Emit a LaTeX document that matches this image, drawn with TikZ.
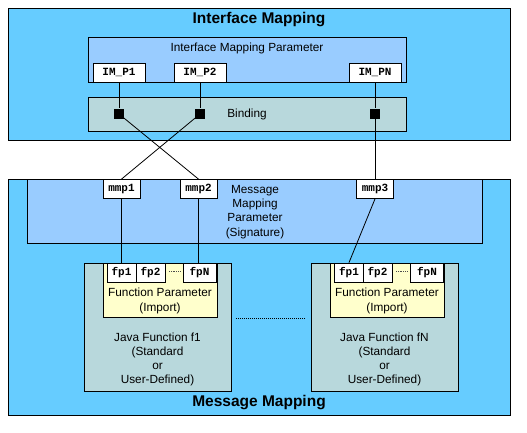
\documentclass[tikz,border=0pt]{standalone}
\usepackage{fontspec}
\setmainfont{Liberation Sans}
\setmonofont{Liberation Mono}
\definecolor{mapblue}{HTML}{66CCFF}
\definecolor{parblue}{HTML}{99CCFF}
\definecolor{bindgray}{HTML}{B8D8DC}
\definecolor{fpyellow}{HTML}{FFFFCC}
\begin{document}
\begin{tikzpicture}[x=1pt,y=-1pt,line width=0.8pt, % pixel grid, y down
   txt/.style={font=\fontsize{11.8}{14.3}\selectfont,align=center},
   headtxt/.style={font=\fontsize{15.5}{18}\selectfont\bfseries},
   pbox/.style={draw=black,fill=white,inner sep=0pt,minimum height=19pt,
      font=\fontsize{11}{12}\selectfont\ttfamily\bfseries},
   knot/.style={fill=black,inner sep=0pt,minimum size=10.5pt}]
   \useasboundingbox (0,0) rectangle (527,432);
   \filldraw[fill=mapblue] (8,8) rectangle (510,140);
   \filldraw[fill=parblue] (88,37) rectangle (406,82);
   \filldraw[fill=bindgray] (88,97) rectangle (406,131);
   \filldraw[fill=mapblue] (8,179) rectangle (510,415);
   \filldraw[fill=parblue] (27,179) rectangle (482,243);
   \filldraw[fill=bindgray] (84,263) rectangle (231,391);
   \filldraw[fill=bindgray] (311,263) rectangle (458,391);
   \filldraw[fill=fpyellow] (103,263) rectangle (217,317);
   \filldraw[fill=fpyellow] (330,263) rectangle (444,317);
   \node[headtxt] (imtitle) at (259,20) {Interface Mapping};
   \node[txt] (imptext) at (247,48) {Interface Mapping Parameter};
   \node[txt] (bindtext) at (247,114) {Binding};
   \node[txt] (mmptext) at (255,212) {Message\\Mapping\\Parameter\\(Signature)};
   \node[headtxt] (mmtitle) at (259,403) {Message Mapping};
   \node[txt,font=\fontsize{11.8}{15}\selectfont] (fptextl) at (160,301) {Function Parameter\\(Import)};
   \node[txt,font=\fontsize{11.8}{15}\selectfont] (fptextr) at (387,301) {Function Parameter\\(Import)};
   \node[txt,font=\fontsize{11.8}{14}\selectfont] (javal) at (157.5,359) {Java Function f1\\(Standard\\or\\User-Defined)};
   \node[txt,font=\fontsize{11.8}{14}\selectfont] (javar) at (384.5,359) {Java Function fN\\(Standard\\or\\User-Defined)};
   \draw[densely dotted,line width=1pt] (236,318) -- (305,318);
   \node[pbox,minimum width=52pt] (imp1) at (119,72.5) {IM\_P1};
   \node[pbox,minimum width=52pt] (imp2) at (200,72.5) {IM\_P2};
   \node[pbox,minimum width=52pt] (impn) at (375,72.5) {IM\_PN};
   \node[knot] (k1) at (119,114) {};
   \node[knot] (k2) at (200,114) {};
   \node[knot] (k3) at (375,114) {};
   \node[pbox,minimum width=37pt] (mmp1) at (121.5,189) {mmp1};
   \node[pbox,minimum width=37pt] (mmp2) at (198.5,189) {mmp2};
   \node[pbox,minimum width=37pt] (mmp3) at (375,189) {mmp3};
   \node[pbox,minimum width=29pt] (fp1l) at (121.5,272.5) {fp1};
   \node[pbox,minimum width=29pt] (fp2l) at (150.5,272.5) {fp2};
   \node[pbox,minimum width=33pt] (fpnl) at (199.5,272.5) {fpN};
   \node[pbox,minimum width=29pt] (fp1r) at (349,272.5) {fp1};
   \node[pbox,minimum width=29pt] (fp2r) at (377.5,272.5) {fp2};
   \node[pbox,minimum width=33pt] (fpnr) at (427,272.5) {fpN};
   \draw[densely dotted,black!70] (169,271) -- (180,271);
   \draw[densely dotted,black!70] (396,271) -- (407,271);
   \draw (imp1) -- (k1);
   \draw (imp2) -- (k2);
   \draw (impn) -- (k3);
   \draw (k1.center) -- (mmp2.north);
   \draw (k2.center) -- (mmp1.north);
   \draw (k3.center) -- (mmp3.north);
   \draw (mmp1) -- (fp1l);
   \draw (mmp2.south) -- (mmp2.south |- fpnl.north);
   \draw (mmp3.south) -- (fp1r.north);
\end{tikzpicture}
\end{document}
